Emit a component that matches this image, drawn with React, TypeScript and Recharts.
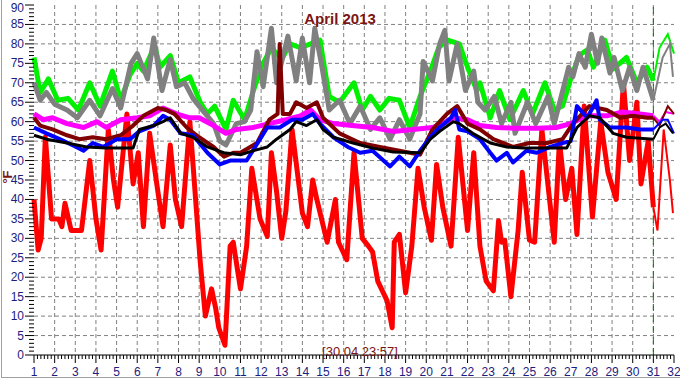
import React from "react";
import { LineChart, Line, XAxis, YAxis, CartesianGrid, ReferenceLine } from "recharts";

// day-of-month ticks and temperature ticks (°F)
const dayTicks = [1, 2, 3, 4, 5, 6, 7, 8, 9, 10, 11, 12, 13, 14, 15, 16, 17, 18, 19, 20, 21, 22, 23, 24, 25, 26, 27, 28, 29, 30, 31, 32];
const tempTicks = [0, 5, 10, 15, 20, 25, 30, 35, 40, 45, 50, 55, 60, 65, 70, 75, 80, 85, 90];
const gridTemps = [5, 10, 15, 20, 25, 30, 35, 40, 45, 50, 55, 60, 65, 70, 75, 80, 85];
const gridDays = [2, 3, 4, 5, 6, 7, 8, 9, 10, 11, 12, 13, 14, 15, 16, 17, 18, 19, 20, 21, 22, 23, 24, 25, 26, 27, 28, 29, 30, 31];
const nowDay = 31;
const title = "April 2013";
const stamp = "[30.04 23:57]";

type Pt = [number, number];

const grayTemps: Pt[] = [
  [1, 70], [1.3, 65.5], [1.6, 67.5], [2, 64.5], [2.6, 63], [3.1, 61], [3.7, 65.5], [4.2, 61.5], [4.8, 68.5],
  [5.2, 63.5], [5.7, 75], [6, 77.5], [6.5, 71], [6.8, 81.5], [7.2, 68], [7.6, 76], [7.9, 69], [8.3, 70],
  [8.7, 66], [9, 64], [9.7, 59.5], [10, 55], [10.3, 54], [10.8, 59.5], [11.2, 60], [11.5, 63], [11.8, 78],
  [12.1, 69], [12.5, 84], [12.75, 70], [13.3, 82], [13.7, 70.5], [14, 81.5], [14.35, 70], [14.6, 84],
  [14.95, 74], [15.3, 63], [15.8, 65.5], [16.3, 59.5], [16.8, 64], [17.3, 58], [17.75, 61], [18.25, 55.5],
  [18.7, 60.5], [19.2, 55.5], [19.7, 62], [19.85, 75.5], [20.3, 70.5], [20.65, 80], [20.9, 83.5], [21.1, 70.5],
  [21.5, 80], [21.9, 68], [22.3, 73], [22.5, 65], [22.85, 63], [23.3, 66.5], [23.65, 59.5], [24.1, 65],
  [24.3, 57], [24.9, 65], [25.3, 59.5], [25.9, 66.5], [26.2, 59.5], [26.9, 74], [27.1, 71.5], [27.4, 77.5],
  [27.7, 74], [28, 82.5], [28.3, 75], [28.5, 81.5], [28.9, 72.5], [29.1, 76.5], [29.5, 68], [29.85, 74],
  [30.2, 68], [30.5, 74], [31, 65.5],
];
const grayTail: Pt[] = [[31, 65.5], [31.45, 76.5], [31.8, 80], [31.95, 71.5]];

const greenTemps: Pt[] = [
  [1, 76.5], [1.3, 67.5], [1.7, 71], [2.15, 65.5], [2.65, 66], [3.15, 63], [3.7, 70], [4.2, 64], [4.8, 73],
  [5.2, 65.5], [5.65, 72], [6, 75], [6.3, 73], [6.85, 79.5], [7.1, 74], [7.6, 77], [8, 70], [8.55, 71.5],
  [9.05, 65], [9.4, 62], [9.75, 64], [10.3, 58], [10.65, 65.5], [11.2, 60.5], [11.6, 67.5], [12, 74],
  [12.5, 79], [13, 76], [13.4, 80], [13.9, 79], [14.4, 80], [14.85, 81], [15.3, 66.5], [15.8, 65],
  [16.5, 70], [16.9, 63], [17.3, 66.5], [17.75, 63], [18.2, 66], [18.7, 65.5], [19.2, 58.5], [19.7, 66.5],
  [20.2, 73], [20.6, 79], [21, 81], [21.6, 80], [22, 74], [22.45, 68], [22.6, 70], [23.1, 61], [23.55, 68],
  [24.05, 60.5], [24.7, 68], [25.15, 62], [25.75, 70], [26.2, 63], [26.6, 64], [27, 71], [27.4, 77],
  [27.8, 78.5], [28.1, 74], [28.65, 81], [29.05, 73.5], [29.7, 76.5], [30.2, 70], [30.7, 74], [31, 70.5],
];
const greenTail: Pt[] = [[31, 70.5], [31.3, 79], [31.7, 82.5], [32, 77.5]];

const magentaTemps: Pt[] = [
  [1, 62], [1.45, 60.5], [1.9, 61], [2.6, 59.5], [3.4, 58.5], [4.05, 60], [4.5, 58.5], [5.2, 60.5], [6, 61],
  [6.6, 61.5], [7.25, 63.5], [7.9, 62], [8.55, 61], [9, 61], [9.7, 59], [10.3, 57], [10.8, 58], [11.6, 58.5],
  [12.4, 59.5], [13.2, 60.5], [13.9, 61.5], [14.4, 63], [14.85, 60.5], [15.5, 59.5], [16.4, 59], [17.4, 58.5],
  [18.4, 57.5], [19.35, 58], [20.3, 58.5], [20.8, 59.5], [21.3, 61], [22, 60.5], [22.6, 59], [23.4, 58.5],
  [24.4, 58.3], [25.35, 58.3], [26.3, 58.5], [27, 59.5], [27.8, 61.5], [28.75, 61.5], [29.5, 62.5],
  [30.35, 62], [31, 61.5],
];
const magentaTail: Pt[] = [[31, 61.5], [31.3, 60], [31.6, 62.5], [32, 62]];

const maroonTemps: Pt[] = [
  [1, 61], [1.3, 59], [1.9, 58], [2.6, 56.5], [3.2, 55.5], [3.85, 56], [4.5, 55.5], [5.2, 56.5], [5.8, 59],
  [6.3, 61.5], [7, 63.5], [7.4, 63], [7.8, 62], [8.4, 58.5], [9, 56], [9.7, 53.5], [10.2, 51], [10.65, 52],
  [11, 52], [11.8, 54.5], [12.4, 60.5], [12.8, 62], [12.9, 80], [13.05, 62], [13.4, 62], [13.7, 65],
  [14.2, 63.5], [14.7, 65], [15, 61], [15.8, 57], [16.8, 54.5], [17.75, 53.5], [18.7, 52.5], [19.7, 51.5],
  [20.3, 58], [21, 62], [21.5, 64], [22, 59.5], [22.6, 58], [23.25, 55.5], [24.2, 53.5], [25, 54.5],
  [25.85, 54.5], [26.6, 55.5], [27.1, 59.5], [27.9, 64], [28.75, 63], [29.4, 61], [30, 61.5], [30.7, 61],
  [31, 61],
];
const maroonTail: Pt[] = [[31, 61], [31.3, 59], [31.7, 64], [32, 62]];

const blueTemps: Pt[] = [
  [1, 58.5], [1.6, 57], [2.25, 55.5], [3.05, 53.5], [3.4, 52.5], [3.85, 54.5], [4.35, 53.5], [5, 55.5],
  [5.65, 55.5], [6.1, 57.5], [6.8, 59], [7.25, 61.5], [7.6, 60.5], [8.1, 57], [8.7, 56.5], [9.4, 52], [10, 49],
  [10.5, 50], [11.3, 50], [11.95, 55.5], [12.3, 58.5], [12.9, 58.5], [13.5, 60.5], [14, 60.5], [14.5, 62],
  [14.85, 59.5], [15.5, 56], [16.2, 53.5], [16.8, 52], [17.4, 52.5], [18.25, 48.5], [18.7, 51], [19.2, 48.5],
  [19.7, 52.5], [20.2, 56], [20.65, 58.5], [21.2, 61], [21.4, 63], [21.6, 58], [22, 57.5], [22.6, 55.5],
  [23.1, 52], [23.4, 50], [23.9, 52], [24.2, 49.5], [24.85, 52.5], [25.35, 52], [26, 53.5], [26.6, 54.5],
  [27, 55], [27.3, 64], [27.8, 61], [28.25, 65.5], [28.4, 60.5], [28.9, 58.5], [29.7, 58.5], [30.35, 58],
  [31, 58],
];
const blueTail: Pt[] = [[31, 58], [31.45, 60.5], [31.7, 60.5], [32, 57]];

const blackTemps: Pt[] = [
  [1, 56.5], [1.6, 55.5], [2.6, 54.5], [3.55, 53.5], [4.5, 53.2], [5.8, 53.2], [6.1, 58], [6.8, 59],
  [7.25, 60], [7.6, 61], [8.1, 57], [8.7, 56], [9.4, 53.5], [10.2, 52], [11, 51.5], [11.6, 52.5], [12.3, 53.5],
  [12.75, 55.5], [13.4, 58], [13.7, 60], [14.2, 59], [14.7, 60.5], [15, 58], [15.5, 56], [16.45, 54.5],
  [17.4, 53.2], [18.4, 52.2], [19.7, 52], [20.2, 55.5], [20.65, 57.5], [21.3, 60], [21.6, 59.5], [22.25, 57],
  [23.1, 54.5], [23.9, 53.5], [24.7, 53.2], [25.5, 53.2], [26.8, 53.2], [27.3, 58.5], [27.9, 61.5],
  [28.4, 61], [29.05, 57], [29.7, 56], [31, 55.5],
];
const blackTail: Pt[] = [[31, 55.5], [31.3, 58.5], [31.6, 59.5], [31.95, 57]];

const redTemps: Pt[] = [
  [1, 40], [1.2, 27], [1.35, 30], [1.55, 56], [1.85, 35], [2.2, 35], [2.35, 33], [2.5, 39], [2.8, 32],
  [3.3, 32], [3.7, 50], [4, 35], [4.25, 27], [4.6, 58], [4.85, 45], [5.05, 38], [5.5, 62], [5.8, 44],
  [6.05, 52], [6.3, 33], [6.6, 57], [7, 42], [7.25, 33], [7.6, 54], [7.85, 40], [8.15, 33], [8.55, 60],
  [9.05, 24], [9.3, 10], [9.6, 17], [9.8, 12], [9.95, 7], [10.25, 2.5], [10.5, 28], [10.65, 29], [11, 17],
  [11.3, 28], [11.55, 48], [11.95, 35], [12.3, 30.5], [12.5, 52], [12.75, 42], [13, 30], [13.2, 37],
  [13.5, 58], [14, 36.5], [14.25, 33], [14.5, 45], [14.7, 40], [15.2, 29], [15.6, 40], [15.75, 29],
  [16.15, 24.5], [16.5, 52], [16.9, 30], [17.2, 28], [17.4, 26.5], [17.65, 19], [18.1, 14], [18.35, 7],
  [18.45, 29], [18.7, 31], [19, 16], [19.3, 28], [19.6, 48], [19.9, 38], [20.25, 29.5], [20.5, 49],
  [20.8, 38], [21.2, 28], [21.55, 56], [22, 32], [22.3, 52], [22.6, 28], [22.9, 19], [23.25, 16.5],
  [23.5, 34.5], [23.65, 29], [23.8, 29.5], [24.1, 15], [24.45, 32], [24.65, 47], [25, 29.5], [25.25, 29],
  [25.6, 58], [26.2, 29], [26.45, 55], [26.75, 40], [27.05, 48], [27.3, 31], [27.65, 64], [28.05, 35.5],
  [28.45, 60], [28.8, 47], [29.2, 40], [29.55, 70], [29.85, 50], [30.2, 65], [30.4, 44], [30.75, 55],
  [31, 38],
];
const redTail: Pt[] = [[31, 38], [31.2, 32], [31.5, 58], [31.8, 45], [31.95, 36.5]];

const toRows = (pts: Pt[]) => pts.map(([day, t]) => ({ day, t }));

const series = [
  { key: "red", color: "#ff0000", width: 5, main: redTemps, tail: redTail },
  { key: "green", color: "#00f000", width: 5, main: greenTemps, tail: greenTail },
  { key: "gray", color: "#808080", width: 5, main: grayTemps, tail: grayTail },
  { key: "magenta", color: "#ff00ff", width: 5, main: magentaTemps, tail: magentaTail },
  { key: "maroon", color: "#800000", width: 4, main: maroonTemps, tail: maroonTail },
  { key: "blue", color: "#0000ff", width: 4, main: blueTemps, tail: blueTail },
  { key: "black", color: "#000000", width: 3, main: blackTemps, tail: blackTail },
];

// minor ticks: 4-hour steps on x, 1 °F on y
const xTicks = dayTicks.flatMap((d, i) =>
  i === dayTicks.length - 1 ? [d] : [0, 1, 2, 3, 4, 5].map((k) => d + k / 6)
);
const yTicks = tempTicks.flatMap((v, i) =>
  i === tempTicks.length - 1 ? [v] : [0, 1, 2, 3, 4].map((k) => v + k)
);

const labelColor = "#1c1c80";
const font = "'Liberation Sans', Arial, sans-serif";

const XTick = (props: any) => {
  const { x, y, payload } = props;
  const v = payload.value;
  const major = Math.abs(v - Math.round(v)) < 1e-6;
  return (
    <g>
      <line x1={x} x2={x} y1={y} y2={y + (major ? 8 : 4)} stroke="#000" />
      {major && (
        <text x={x} y={y + 21} textAnchor="middle" fill={labelColor} fontSize={12} fontFamily={font}>
          {Math.round(v)}
        </text>
      )}
    </g>
  );
};

const YTick = (props: any) => {
  const { x, y, payload } = props;
  const v = payload.value;
  const major = v % 5 === 0;
  // keep the top label inside the frame
  const ty = Math.max(y + 4, 12);
  return (
    <g>
      <line x1={x - (major ? 9 : 5)} x2={x} y1={y} y2={y} stroke="#000" />
      {major && (
        <text x={x - 10} y={ty} textAnchor="end" fill={labelColor} fontSize={12} fontFamily={font}>
          {v}
        </text>
      )}
    </g>
  );
};

export default function App() {
  return (
    <div style={{ position: "absolute", left: 0, top: 0, width: 680, height: 380, background: "#fff" }}>
      <LineChart width={680} height={380} margin={{ top: 5, right: 6, bottom: 0, left: 0 }}>
        <CartesianGrid
          stroke="#808080"
          strokeDasharray="4 3"
          horizontalValues={gridTemps}
          verticalValues={gridDays}
        />
        <XAxis
          type="number"
          dataKey="day"
          domain={[1, 32]}
          ticks={xTicks}
          interval={0}
          height={25}
          tickSize={0}
          tickMargin={0}
          tick={<XTick />}
          axisLine={{ stroke: "#000" }}
          allowDuplicatedCategory={false}
        />
        <YAxis
          type="number"
          dataKey="t"
          domain={[0, 90]}
          ticks={yTicks}
          interval={0}
          width={34}
          tickSize={0}
          tickMargin={0}
          tick={<YTick />}
          axisLine={false}
        />
        <ReferenceLine x={nowDay} stroke="#008000" strokeDasharray="7 4" />
        {series.map((s) => (
          <Line
            key={s.key}
            data={toRows(s.main)}
            dataKey="t"
            type="linear"
            stroke={s.color}
            strokeWidth={s.width}
            strokeLinejoin="round"
            dot={false}
            isAnimationActive={false}
          />
        ))}
        {series.map((s) => (
          <Line
            key={s.key + "-tail"}
            data={toRows(s.tail)}
            dataKey="t"
            type="linear"
            stroke={s.color}
            strokeWidth={2}
            dot={false}
            isAnimationActive={false}
          />
        ))}
      </LineChart>
      <svg
        width={680}
        height={380}
        style={{ position: "absolute", left: 0, top: 0, pointerEvents: "none" }}
      >
        <line x1={1.5} x2={1.5} y1={0} y2={378} stroke="#a0a0a0" />
        <line x1={1} x2={680} y1={377.5} y2={377.5} stroke="#a0a0a0" />
        <text x={340} y={24} textAnchor="middle" fill="#7b1414" fontSize={15} fontWeight="bold" fontFamily={font}>
          {title}
        </text>
        <text x={360} y={356} textAnchor="middle" fill="#7b1414" fontSize={13} fontFamily={font}>
          {stamp}
        </text>
        <text
          x={12}
          y={177}
          transform="rotate(-90 12 177)"
          textAnchor="middle"
          fill="#7b1414"
          fontSize={13}
          fontWeight="bold"
          fontFamily={font}
        >
          °F
        </text>
      </svg>
    </div>
  );
}
